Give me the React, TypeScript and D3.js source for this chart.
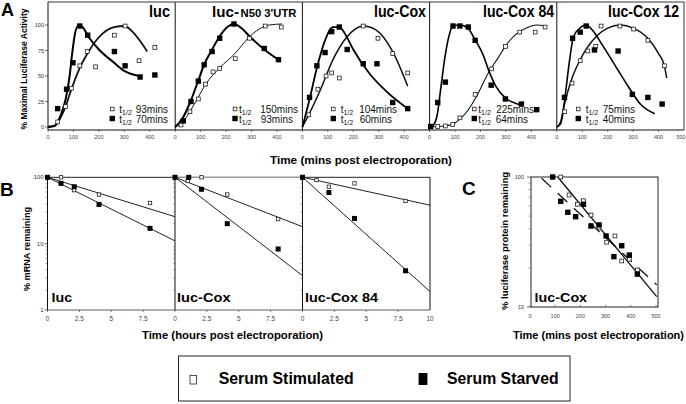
import React from "react";
import * as d3 from "d3";

type P = [number, number];

// ---------------- Panel A data ----------------
const aTitles = ["luc", "luc-", "luc-Cox", "luc-Cox 84", "luc-Cox 12"];
const aTitleSuffix = ["", "N50 3'UTR", "", "", ""];
const aStimHalfLife = ["93mins", "150mins", "104mins", "225mins", "75mins"];
const aStarvedHalfLife = ["70mins", "93mins", "60mins", "64mins", "40mins"];
const aXTicks = [0, 100, 200, 300, 400];
const aYTicks = [0, 25, 50, 75, 100];

const lucStim: P[] = [[38, 5], [69, 20], [92, 38], [125, 60], [154, 74], [187, 59], [261, 90], [303, 99], [358, 65], [420, 78]];
const lucStarved: P[] = [[38, 18], [73, 37], [98, 63], [125, 99], [156, 90], [261, 74], [303, 60], [362, 49], [420, 51]];
const lucStimFit: P[] = [[0, 0], [25, 1], [40, 5], [55, 12], [69, 20], [92, 37], [125, 58], [155, 72], [200, 88], [260, 98], [300, 99], [330, 94], [360, 85], [390, 74]];
const lucStarvedFit: P[] = [[0, 0], [25, 1], [40, 6], [55, 15], [70, 28], [85, 50], [95, 72], [105, 90], [118, 99], [130, 99], [160, 88], [200, 76], [260, 63], [300, 55], [360, 50]];

const n50Stim: P[] = [[23, 2], [58, 15], [91, 27.5], [119, 42], [149, 54], [175, 57.5], [236, 67], [292, 87], [354, 99], [417, 98]];
const n50Starved: P[] = [[32, 6], [62, 25], [91, 45], [114, 61], [145, 74], [175, 87], [231, 101], [350, 77], [406, 66]];
const n50StimFit: P[] = [[0, 0], [30, 5], [60, 16], [90, 29], [120, 42], [175, 58], [235, 72], [290, 88], [330, 96], [370, 100], [420, 101]];
const n50StarvedFit: P[] = [[0, 0], [30, 9], [60, 25], [90, 45], [115, 62], [145, 76], [175, 89], [205, 98], [231, 101], [260, 97], [292, 89], [350, 76], [406, 66]];

const coxStim: P[] = [[25, 12], [61, 37], [93, 50], [115, 53], [145, 48], [239, 99], [297, 87], [355, 72], [414, 53]];
const coxStarved: P[] = [[28, 29], [57, 60], [89, 73], [115, 93.5], [145, 98], [176, 76], [239, 62], [293, 62], [355, 24], [414, 18]];
const coxStimFit: P[] = [[0, 0], [25, 12], [70, 36], [122, 67], [174, 88], [239, 99], [290, 95], [355, 74], [414, 40]];
const coxStarvedFit: P[] = [[0, 0], [28, 27], [57, 58], [89, 85], [120, 98], [145, 98], [175, 88], [200, 76], [265, 52], [330, 35], [414, 18]];

const cox84Stim: P[] = [[32, 0.5], [62, 1], [91, 2.5], [119, 9], [179, 32], [244, 57], [298, 79], [354, 93], [415, 93], [454, 98]];
const cox84Starved: P[] = [[4, 0.5], [32, 24], [62, 44], [92, 99], [119, 99], [152, 98], [179, 85], [242, 41], [298, 27.5], [361, 22.5], [421, 17]];
const cox84StimFit: P[] = [[0, 0], [60, 1], [100, 4], [140, 13], [180, 28], [233, 54], [270, 68], [300, 80], [340, 91], [380, 97], [420, 100], [455, 99]];
const cox84StarvedFit: P[] = [[0, 0], [15, 2], [30, 12], [45, 40], [60, 68], [75, 88], [92, 99], [119, 100], [150, 97], [180, 85], [210, 71], [233, 55], [260, 40], [300, 28], [340, 23], [370, 21]];

const cox12Stim: P[] = [[31, 15], [60, 43], [92, 65], [122, 74.5], [153, 79], [174, 99], [248, 99], [302, 96], [358, 85], [423, 60]];
const cox12Starved: P[] = [[30, 29], [62, 87], [92, 93], [115.5, 99], [148, 75.5], [241, 74.5], [297, 32], [358, 29], [414, 22.5]];
const cox12StimFit: P[] = [[0, 0], [15, 5], [30, 22], [60, 48], [90, 65], [120, 78], [160, 90], [200, 97], [250, 100], [300, 97], [358, 87], [400, 72], [423, 60], [432, 48]];
const cox12StarvedFit: P[] = [[0, 0], [15, 3], [30, 25], [50, 65], [65, 88], [90, 97], [115, 100], [140, 95], [180, 80], [230, 60], [280, 40], [330, 22], [385, 13]];

// ---------------- Panel B data ----------------
const bTitles = ["luc", "luc-Cox", "luc-Cox 84"];
const bXTicks = [0, 2.5, 5, 7.5];
const bYTicks = [1, 10, 100];

const bLucStim: P[] = [[0, 100], [1.06, 100], [2.08, 64], [4.04, 55], [8.04, 41]];
const bLucStarved: P[] = [[0, 100], [1.06, 81], [2.1, 72], [4.04, 39], [8.04, 17]];
const bLucStimFit: P[] = [[0, 100], [10, 25.5]];
const bLucStarvedFit: P[] = [[0, 100], [10, 11]];

const bCoxStim: P[] = [[0, 100], [1.0, 88], [2.08, 100], [4.1, 55], [8.09, 23.5]];
const bCoxStarved: P[] = [[0, 100], [1.08, 100], [2.08, 66], [4.1, 20], [8.09, 8.3]];
const bCoxStimFit: P[] = [[0, 100], [10, 18]];
const bCoxStarvedFit: P[] = [[0, 100], [10, 3.3]];

const bCox84Stim: P[] = [[0, 100], [1.1, 91], [2.07, 72], [4.08, 81], [8.08, 44]];
const bCox84Starved: P[] = [[0, 100], [2.07, 59], [4.08, 24], [8.08, 3.9]];
const bCox84StimFit: P[] = [[0, 100], [10, 38]];
const bCox84StarvedFit: P[] = [[0, 100], [10, 1.9]];

// ---------------- Panel C data ----------------
const cTitle = "luc-Cox";
const cXTicks = [0, 100, 200, 300, 400, 500];
const cYTicks = [10, 100];
const cStim: P[] = [[122, 100], [155, 72.7], [188, 61.7], [212, 65.7], [242, 51], [274, 41], [304, 31.5], [337, 35.2], [364, 22.6], [394, 23.3], [426, 19.3]];
const cStarved: P[] = [[90, 100], [122, 65], [150, 53.5], [181, 49.5], [212, 61.7], [242, 42], [274, 42.8], [302, 35.2], [333, 24.4], [364, 29.6], [394, 25.1], [426, 17.9]];
const cSolidFit: P[] = [[110, 100], [503, 12]];
const cDashedFit: P[] = [[46, 97.7], [503, 14.8]];

const legendLabels = ["Serum Stimulated", "Serum Starved"];

// ---------------- layout ----------------
const FONT = "Liberation Sans, Arial, Helvetica, sans-serif";
const A_LEFT = 48, A_SUBW = 127.2, A_TOP = 2, A_BOTTOM = 130;
const aTitleStart = [149, 212, 374, 483, 608];
const aTitleWidth = [21, 27, 52, 71, 71];
const aTitleSize = [17, 14.5, 17, 17, 17];
const aSqX = [112.3, 235, 333.3, 474.3, 578.3];
const aTX = [119.3, 239, 340.7, 478.3, 585.7];
const aValEnd1 = [168, 298, 397, 534, 635];
const aValEnd2 = [168, 293, 392, 528, 635];
const aStimW = [1.8, 1, 1.5, 1.1, 1.5];
const aStarvedW = [2, 2, 1.8, 1.6, 1.6];

const B_LEFT = 47.5, B_SUBW = 127.5, B_TOP = 177.3, B_BOTTOM = 310;
const bTitleStart = [51.6, 177, 305];
const bTitleWidth = [20.6, 53.5, 73];

const Sq = ({ x, y, filled, s }: { x: number; y: number; filled: boolean; s: number }) =>
  filled ? (
    <rect x={x - s / 2} y={y - s / 2} width={s} height={s} fill="#000" />
  ) : (
    <rect x={x - s / 2 + 0.4} y={y - s / 2 + 0.4} width={s - 0.8} height={s - 0.8} fill="#fff" stroke="#222" strokeWidth={0.8} />
  );

export default function App() {
  const yA = d3.scaleLinear().domain([0, 100]).range([127, 25]);
  const aData = [
    [lucStim, lucStarved, lucStimFit, lucStarvedFit],
    [n50Stim, n50Starved, n50StimFit, n50StarvedFit],
    [coxStim, coxStarved, coxStimFit, coxStarvedFit],
    [cox84Stim, cox84Starved, cox84StimFit, cox84StarvedFit],
    [cox12Stim, cox12Starved, cox12StimFit, cox12StarvedFit],
  ];
  const yB = d3.scaleLog().domain([1, 100]).range([B_BOTTOM, B_TOP]);
  const bData = [
    [bLucStim, bLucStarved, bLucStimFit, bLucStarvedFit],
    [bCoxStim, bCoxStarved, bCoxStimFit, bCoxStarvedFit],
    [bCox84Stim, bCox84Starved, bCox84StimFit, bCox84StarvedFit],
  ];
  const xC = d3.scaleLinear().domain([0, 500]).range([530, 656]);
  const yC = d3.scaleLog().domain([10, 100]).range([307, 177]);

  const bMinor = [2, 3, 4, 5, 6, 7, 8, 9, 20, 30, 40, 50, 60, 70, 80, 90];
  const cMinor = [20, 30, 40, 50, 60, 70, 80, 90];

  return (
    <svg width={686} height={404} style={{ position: "fixed", left: 0, top: 0, display: "block" }} fontFamily={FONT}>
      <rect width={686} height={404} fill="#fff" />

      {/* ================= Panel A ================= */}
      <text x={1} y={16} fontSize={18} fontWeight="bold">A</text>
      <text transform="translate(26.5,69) rotate(-90)" fontSize={9} fontWeight="bold" textAnchor="middle" textLength={121} lengthAdjust="spacingAndGlyphs">% Maximal Luciferase Activity</text>
      {aYTicks.map((t) => (
        <g key={"ay" + t}>
          <line x1={45} x2={A_LEFT} y1={yA(t)} y2={yA(t)} stroke="#333" strokeWidth={0.7} />
          <text x={44} y={yA(t) + 2} fontSize={5.5} textAnchor="end" fill="#333">{t}</text>
        </g>
      ))}
      {aData.map((d, i) => {
        const x0 = A_LEFT + i * A_SUBW;
        const x = d3.scaleLinear().domain([0, 500]).range([x0, x0 + A_SUBW]);
        const line = d3.line<P>().x((p) => x(p[0])).y((p) => yA(p[1])).curve(d3.curveMonotoneX);
        const [stim, starved, stimFit, starvedFit] = d;
        return (
          <g key={"a" + i}>
            <line x1={x0} x2={x0} y1={A_TOP} y2={A_BOTTOM} stroke="#111" strokeWidth={1} />
            {aXTicks.map((t) => (
              <g key={t}>
                <line x1={x(t)} x2={x(t)} y1={A_BOTTOM} y2={A_BOTTOM + 2} stroke="#333" strokeWidth={0.6} />
                <text x={x(t)} y={139} fontSize={5.5} textAnchor="middle" fill="#444">{t}</text>
              </g>
            ))}
            {i === 4 && <text x={x(500) - 3} y={139} fontSize={5.5} textAnchor="middle" fill="#444">500</text>}
            <path d={line(stimFit) || ""} fill="none" stroke="#111" strokeWidth={aStimW[i]} />
            <path d={line(starvedFit) || ""} fill="none" stroke="#000" strokeWidth={aStarvedW[i]} />
            {stim.map((p, j) => <Sq key={"s" + j} x={x(p[0])} y={yA(p[1])} filled={false} s={4.6} />)}
            {starved.map((p, j) => <Sq key={"f" + j} x={x(p[0])} y={yA(p[1])} filled={true} s={5.4} />)}
            {/* title */}
            <text x={aTitleStart[i]} y={16.5} fontSize={aTitleSize[i]} fontWeight="bold" textLength={aTitleWidth[i]} lengthAdjust="spacingAndGlyphs">{aTitles[i]}</text>
            {aTitleSuffix[i] && (
              <text x={aTitleStart[i] + aTitleWidth[i] + 1.5} y={16.5} fontSize={11} fontWeight="bold" textLength={56} lengthAdjust="spacingAndGlyphs">{aTitleSuffix[i]}</text>
            )}
            {/* half-life legend */}
            <Sq x={aSqX[i]} y={109} filled={false} s={4.4} />
            <Sq x={aSqX[i]} y={118.5} filled={true} s={5.4} />
            <text x={aTX[i]} y={112.5} fontSize={10} fill="#111">t<tspan fontSize={7} dy={2.5}>1/2</tspan></text>
            <text x={aTX[i]} y={122.5} fontSize={10} fill="#111">t<tspan fontSize={7} dy={2.5}>1/2</tspan></text>
            <text x={aValEnd1[i]} y={113} fontSize={10} textAnchor="end" fill="#111">{aStimHalfLife[i]}</text>
            <text x={aValEnd2[i]} y={123} fontSize={10} textAnchor="end" fill="#111">{aStarvedHalfLife[i]}</text>
          </g>
        );
      })}
      <line x1={A_LEFT} x2={A_LEFT + 5 * A_SUBW} y1={A_TOP} y2={A_TOP} stroke="#333" strokeWidth={1} />
      <line x1={A_LEFT} x2={A_LEFT + 5 * A_SUBW} y1={A_BOTTOM} y2={A_BOTTOM} stroke="#111" strokeWidth={1} />
      <line x1={A_LEFT + 5 * A_SUBW} x2={A_LEFT + 5 * A_SUBW} y1={A_TOP} y2={A_BOTTOM} stroke="#333" strokeWidth={1} />
      <text x={270} y={164} fontSize={11.5} fontWeight="bold" textLength={182} lengthAdjust="spacingAndGlyphs">Time (mins post electroporation)</text>

      {/* ================= Panel B ================= */}
      <text x={0} y={196} fontSize={19} fontWeight="bold">B</text>
      <text transform="translate(30,249) rotate(-90)" fontSize={9} fontWeight="bold" textAnchor="middle" textLength={84} lengthAdjust="spacingAndGlyphs">% mRNA remaining</text>
      {bYTicks.map((t) => (
        <g key={"by" + t}>
          <line x1={B_LEFT - 3} x2={B_LEFT} y1={yB(t)} y2={yB(t)} stroke="#333" strokeWidth={0.7} />
          <text x={B_LEFT - 4} y={yB(t) + 2} fontSize={6} textAnchor="end" fill="#333">{t}</text>
        </g>
      ))}
      {bData.map((d, i) => {
        const x0 = B_LEFT + i * B_SUBW;
        const x = d3.scaleLinear().domain([0, 10]).range([x0, x0 + B_SUBW]);
        const line = d3.line<P>().x((p) => x(p[0])).y((p) => yB(p[1]));
        const [stim, starved, stimFit, starvedFit] = d;
        return (
          <g key={"b" + i}>
            <line x1={x0} x2={x0 + B_SUBW} y1={B_TOP} y2={B_TOP} stroke={i === 1 ? "#999" : "#222"} strokeWidth={i === 1 ? 1.6 : 1} />
            <line x1={x0} x2={x0} y1={B_TOP} y2={B_BOTTOM} stroke="#111" strokeWidth={1} />
            {bMinor.map((m) => (
              <line key={m} x1={x0 - 2} x2={x0} y1={yB(m)} y2={yB(m)} stroke="#555" strokeWidth={0.5} />
            ))}
            {bXTicks.map((t) => (
              <g key={t}>
                <line x1={x(t)} x2={x(t)} y1={B_BOTTOM} y2={B_BOTTOM + 2} stroke="#333" strokeWidth={0.6} />
                <text x={x(t)} y={321} fontSize={6.5} textAnchor="middle" fill="#444">{t}</text>
              </g>
            ))}
            {i === 2 && <text x={x(10)} y={321} fontSize={6.5} textAnchor="middle" fill="#444">10</text>}
            <path d={line(stimFit) || ""} fill="none" stroke="#222" strokeWidth={1} />
            <path d={line(starvedFit) || ""} fill="none" stroke="#222" strokeWidth={1} />
            {stim.map((p, j) => <Sq key={"s" + j} x={x(p[0])} y={yB(p[1])} filled={false} s={4.2} />)}
            {starved.map((p, j) => <Sq key={"f" + j} x={x(p[0])} y={yB(p[1])} filled={true} s={5} />)}
            <text x={bTitleStart[i]} y={302} fontSize={13.5} fontWeight="bold" textLength={bTitleWidth[i]} lengthAdjust="spacingAndGlyphs">{bTitles[i]}</text>
          </g>
        );
      })}
      <line x1={B_LEFT + 3 * B_SUBW} x2={B_LEFT + 3 * B_SUBW} y1={B_TOP} y2={B_BOTTOM} stroke="#111" strokeWidth={1} />
      <line x1={B_LEFT} x2={B_LEFT + 3 * B_SUBW} y1={B_BOTTOM} y2={B_BOTTOM} stroke="#333" strokeWidth={0.8} />
      <text x={142} y={339} fontSize={11.5} fontWeight="bold" textLength={181} lengthAdjust="spacingAndGlyphs">Time (hours  post electroporation)</text>

      {/* ================= Panel C ================= */}
      <text x={462} y={195} fontSize={19} fontWeight="bold">C</text>
      <text transform="translate(508,241) rotate(-90)" fontSize={9.5} fontWeight="bold" textAnchor="middle" textLength={138} lengthAdjust="spacingAndGlyphs">% luciferase protein remaining</text>
      <rect x={531} y={177} width={127} height={130} fill="none" stroke="#222" strokeWidth={1} />
      {cYTicks.map((t) => (
        <g key={"cy" + t}>
          <line x1={527} x2={531} y1={yC(t)} y2={yC(t)} stroke="#333" strokeWidth={0.7} />
          <text x={524} y={yC(t) + 2} fontSize={5.5} textAnchor="end" fill="#333">{t}</text>
        </g>
      ))}
      {cMinor.map((m) => (
        <line key={"cm" + m} x1={528.5} x2={531} y1={yC(m)} y2={yC(m)} stroke="#555" strokeWidth={0.5} />
      ))}
      {cXTicks.map((t) => (
        <g key={"cx" + t}>
          <line x1={xC(t)} x2={xC(t)} y1={305} y2={307} stroke="#333" strokeWidth={0.6} />
          <text x={xC(t)} y={318} fontSize={5.5} textAnchor="middle" fill="#444">{t}</text>
        </g>
      ))}
      <path d={d3.line<P>().x((p) => xC(p[0])).y((p) => yC(p[1]))(cSolidFit) || ""} fill="none" stroke="#111" strokeWidth={1.3} />
      <path d={d3.line<P>().x((p) => xC(p[0])).y((p) => yC(p[1]))(cDashedFit) || ""} fill="none" stroke="#111" strokeWidth={1.3} strokeDasharray="13,9" />
      {cStim.map((p, j) => <Sq key={"cs" + j} x={xC(p[0])} y={yC(p[1])} filled={false} s={4.6} />)}
      {cStarved.map((p, j) => <Sq key={"cf" + j} x={xC(p[0])} y={yC(p[1])} filled={true} s={5.4} />)}
      <text x={534.6} y={302} fontSize={13.5} fontWeight="bold" textLength={52.5} lengthAdjust="spacingAndGlyphs">{cTitle}</text>
      <text x={513} y={339} fontSize={11.5} fontWeight="bold" textLength={171} lengthAdjust="spacingAndGlyphs">Time (mins post electroporation)</text>

      {/* ================= Legend ================= */}
      <rect x={178.5} y={356} width={391.5} height={45} fill="#fff" stroke="#222" strokeWidth={1} />
      <rect x={190} y={375.5} width={6.5} height={8.5} fill="#fff" stroke="#222" strokeWidth={0.8} />
      <text x={218.7} y={384} fontSize={16.5} fontWeight="bold" textLength={135} lengthAdjust="spacingAndGlyphs">{legendLabels[0]}</text>
      <rect x={418.6} y={373} width={8.8} height={12} fill="#000" />
      <text x={447} y={384} fontSize={16.5} fontWeight="bold" textLength={111.6} lengthAdjust="spacingAndGlyphs">{legendLabels[1]}</text>
    </svg>
  );
}
